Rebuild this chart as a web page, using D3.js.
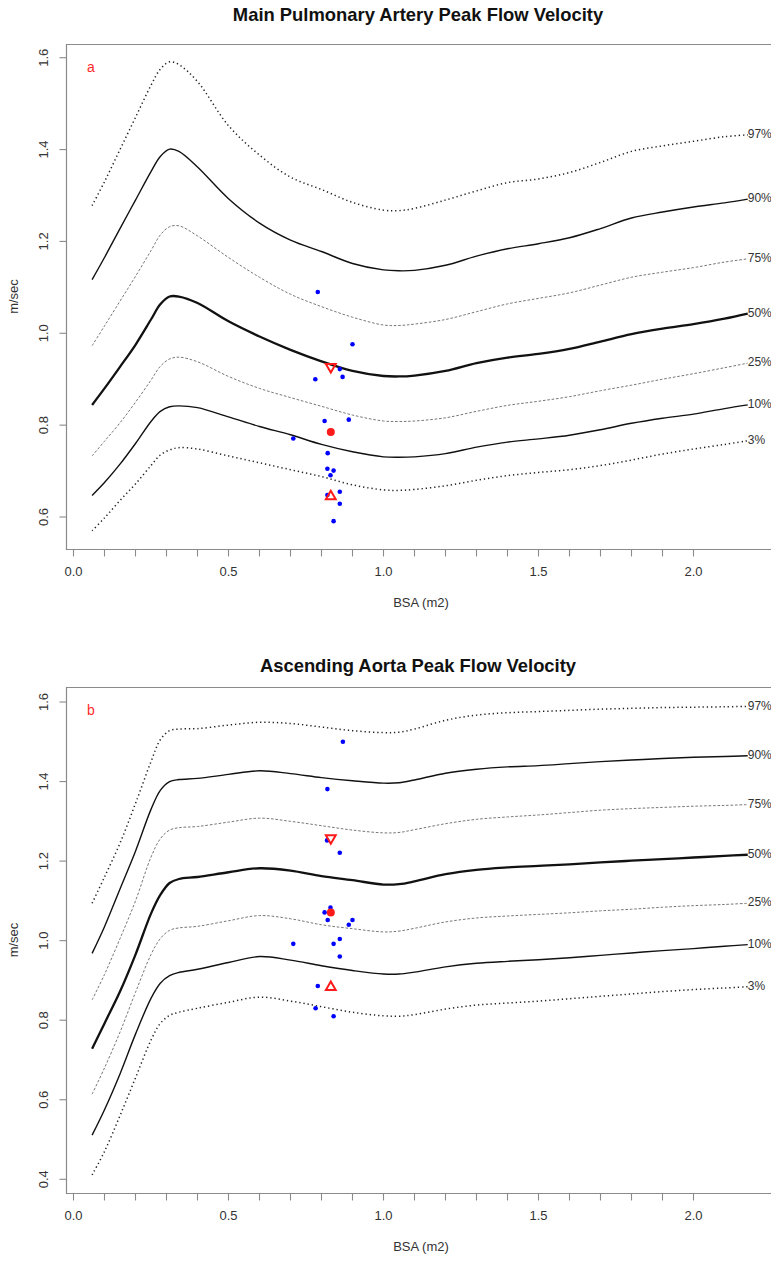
<!DOCTYPE html>
<html>
<head>
<meta charset="utf-8">
<script src="https://cdn.jsdelivr.net/npm/d3@7"></script>
<style>
  html, body { margin: 0; padding: 0; background: #fff; }
  svg { display: block; font-family: "Liberation Sans", Arial, sans-serif; }
</style>
</head>
<body>
<svg id="chart" width="771" height="1261"></svg>
<script>
// BSA grid on which the centile curves are tabulated (m2)
const bsaGrid = [0.06, 0.10, 0.15, 0.20, 0.25, 0.28, 0.31, 0.34, 0.40, 0.50, 0.60, 0.70, 0.80, 0.90,
                 1.00, 1.05, 1.10, 1.20, 1.30, 1.40, 1.50, 1.60, 1.70, 1.80, 1.90, 2.00, 2.10, 2.175];
const centileLabels = ["97%", "90%", "75%", "50%", "25%", "10%", "3%"];

// Main pulmonary artery peak velocity centiles (m/sec)
const mpa97 = [1.278, 1.330, 1.400, 1.470, 1.540, 1.575, 1.591, 1.585, 1.548, 1.452, 1.388, 1.340, 1.313, 1.285,
               1.268, 1.267, 1.272, 1.290, 1.310, 1.328, 1.336, 1.350, 1.372, 1.396, 1.408, 1.418, 1.428, 1.432];
const mpa90 = [1.117, 1.165, 1.228, 1.290, 1.352, 1.385, 1.401, 1.396, 1.362, 1.293, 1.240, 1.203, 1.178, 1.152,
               1.138, 1.136, 1.137, 1.148, 1.168, 1.184, 1.195, 1.208, 1.228, 1.251, 1.264, 1.275, 1.284, 1.292];
const mpa75 = [0.973, 1.016, 1.070, 1.124, 1.180, 1.214, 1.232, 1.234, 1.212, 1.165, 1.122, 1.085, 1.058, 1.035,
               1.018, 1.017, 1.020, 1.030, 1.047, 1.064, 1.076, 1.088, 1.105, 1.122, 1.133, 1.143, 1.155, 1.162];
const mpa50 = [0.844, 0.880, 0.927, 0.975, 1.030, 1.063, 1.080, 1.080, 1.066, 1.026, 0.993, 0.964, 0.939, 0.918,
               0.907, 0.906, 0.908, 0.918, 0.935, 0.947, 0.955, 0.966, 0.982, 0.998, 1.010, 1.020, 1.032, 1.043];
const mpa25 = [0.733, 0.765, 0.805, 0.850, 0.898, 0.928, 0.944, 0.948, 0.938, 0.906, 0.880, 0.860, 0.841, 0.822,
               0.809, 0.808, 0.809, 0.816, 0.830, 0.843, 0.852, 0.862, 0.875, 0.887, 0.900, 0.912, 0.925, 0.935];
const mpa10 = [0.647, 0.675, 0.715, 0.760, 0.808, 0.830, 0.840, 0.842, 0.838, 0.818, 0.797, 0.779, 0.758, 0.742,
               0.731, 0.730, 0.731, 0.738, 0.752, 0.763, 0.770, 0.778, 0.790, 0.804, 0.815, 0.824, 0.836, 0.844];
const mpa03 = [0.570, 0.598, 0.636, 0.672, 0.712, 0.735, 0.746, 0.751, 0.748, 0.733, 0.718, 0.703, 0.688, 0.670,
               0.659, 0.658, 0.660, 0.668, 0.680, 0.690, 0.697, 0.703, 0.712, 0.724, 0.737, 0.748, 0.758, 0.766];

// Ascending aorta peak velocity centiles (m/sec)
const aao97 = [1.094, 1.160, 1.245, 1.345, 1.450, 1.505, 1.528, 1.532, 1.533, 1.542, 1.549, 1.546, 1.537, 1.528,
               1.523, 1.524, 1.532, 1.554, 1.567, 1.573, 1.576, 1.579, 1.582, 1.584, 1.586, 1.587, 1.588, 1.589];
const aao90 = [0.968, 1.035, 1.130, 1.225, 1.330, 1.378, 1.400, 1.405, 1.408, 1.418, 1.427, 1.420, 1.410, 1.402,
               1.396, 1.397, 1.404, 1.421, 1.431, 1.437, 1.440, 1.445, 1.450, 1.454, 1.458, 1.461, 1.463, 1.465];
const aao75 = [0.851, 0.915, 1.005, 1.100, 1.210, 1.256, 1.278, 1.284, 1.287, 1.298, 1.308, 1.300, 1.289, 1.278,
               1.271, 1.272, 1.279, 1.294, 1.305, 1.311, 1.316, 1.322, 1.328, 1.332, 1.335, 1.338, 1.340, 1.342];
const aao50 = [0.728, 0.792, 0.872, 0.965, 1.068, 1.115, 1.145, 1.155, 1.160, 1.172, 1.182, 1.176, 1.162, 1.152,
               1.141, 1.142, 1.149, 1.167, 1.178, 1.184, 1.188, 1.192, 1.197, 1.201, 1.205, 1.209, 1.213, 1.216];
const aao25 = [0.614, 0.680, 0.770, 0.870, 0.965, 1.005, 1.026, 1.032, 1.036, 1.050, 1.063, 1.055, 1.040, 1.030,
               1.022, 1.024, 1.031, 1.047, 1.057, 1.062, 1.066, 1.070, 1.075, 1.079, 1.084, 1.088, 1.091, 1.094];
const aao10 = [0.511, 0.575, 0.665, 0.765, 0.855, 0.893, 0.912, 0.920, 0.928, 0.945, 0.960, 0.951, 0.937, 0.925,
               0.916, 0.916, 0.921, 0.934, 0.943, 0.948, 0.952, 0.957, 0.963, 0.969, 0.975, 0.980, 0.986, 0.990];
const aao03 = [0.411, 0.470, 0.560, 0.655, 0.750, 0.792, 0.812, 0.820, 0.830, 0.845, 0.858, 0.848, 0.834, 0.820,
               0.811, 0.810, 0.814, 0.828, 0.838, 0.843, 0.848, 0.854, 0.860, 0.866, 0.872, 0.877, 0.881, 0.884];

// Individual patients: BSA (m2) and peak velocity (m/sec)
const mpaBsa = [0.788, 0.900, 0.859, 0.868, 0.780, 0.810, 0.888, 0.709, 0.820, 0.819, 0.839, 0.829, 0.859, 0.819, 0.859, 0.839];
const mpaVel = [1.090, 0.976, 0.922, 0.905, 0.900, 0.809, 0.812, 0.771, 0.739, 0.705, 0.701, 0.691, 0.655, 0.648, 0.629, 0.591];
const aaoBsa = [0.869, 0.819, 0.818, 0.859, 0.829, 0.810, 0.820, 0.900, 0.888, 0.859, 0.709, 0.839, 0.859, 0.788, 0.781, 0.839];
const aaoVel = [1.500, 1.381, 1.252, 1.221, 1.083, 1.071, 1.052, 1.052, 1.040, 1.004, 0.992, 0.992, 0.960, 0.886, 0.830, 0.810];

// Group summary at the mean BSA: mean, upper and lower values
const groupBsa = 0.83;
const mpaSummary = [0.785, 0.927, 0.645];
const aaoSummary = [1.071, 1.258, 0.883];

// Axis ticks
const xTicks = d3.range(0, 21).map(i => i / 10);
const xTickLabels = [0, 0.5, 1.0, 1.5, 2.0];
const mpaYTicks = [0.6, 0.8, 1.0, 1.2, 1.4, 1.6];
const aaoYTicks = [0.4, 0.6, 0.8, 1.0, 1.2, 1.4, 1.6];

const svg = d3.select("#chart");
svg.append("rect").attr("width", 771).attr("height", 1261).attr("fill", "#fff");

const plotLeft = 66, plotRight = 774;
const x = d3.scaleLinear().domain([0, 2]).range([73.5, 693.5]);

const styles = {
  "97%": { stroke: "#222", width: 1.5, dash: "1.3,2.9" },
  "90%": { stroke: "#111", width: 1.4, dash: null },
  "75%": { stroke: "#777", width: 1.0, dash: "2.6,1.8" },
  "50%": { stroke: "#111", width: 2.3, dash: null },
  "25%": { stroke: "#777", width: 1.0, dash: "2.6,1.8" },
  "10%": { stroke: "#111", width: 1.4, dash: null },
  "3%":  { stroke: "#222", width: 1.5, dash: "1.3,2.9" }
};

function drawPanel(cfg) {
  const g = svg.append("g");
  const y = d3.scaleLinear().domain(cfg.yDomain).range(cfg.yRange);

  // title
  g.append("text").attr("x", 418).attr("y", cfg.titleY)
    .attr("text-anchor", "middle").attr("font-size", 18.4).attr("font-weight", "bold")
    .attr("fill", "#111").text(cfg.title);

  // frame (left, top, bottom)
  g.append("path")
    .attr("d", `M${plotRight},${cfg.top + 0.5}H${plotLeft + 0.5}V${cfg.bottom + 0.5}H${plotRight}`)
    .attr("fill", "none").attr("stroke", "#8a8a8a").attr("stroke-width", 1.2);

  // x axis ticks
  const xt = g.append("g");
  xTicks.forEach(t => {
    xt.append("line").attr("x1", x(t)).attr("x2", x(t))
      .attr("y1", cfg.bottom + 0.5).attr("y2", cfg.bottom + 7.5)
      .attr("stroke", "#8a8a8a").attr("stroke-width", 1.1);
  });
  xTickLabels.forEach(t => {
    xt.append("text").attr("x", x(t)).attr("y", cfg.bottom + 24)
      .attr("text-anchor", "middle").attr("dominant-baseline", "middle")
      .attr("font-size", 13).attr("fill", "#333").text(d3.format(".1f")(t));
  });
  g.append("text").attr("x", 421).attr("y", cfg.bottom + 55)
    .attr("text-anchor", "middle").attr("dominant-baseline", "middle")
    .attr("font-size", 13).attr("fill", "#333").text("BSA (m2)");

  // y axis ticks (labels rotated, as in base graphics)
  cfg.yTicks.forEach(t => {
    g.append("line").attr("x1", plotLeft + 0.5).attr("x2", plotLeft - 6.5)
      .attr("y1", y(t)).attr("y2", y(t))
      .attr("stroke", "#8a8a8a").attr("stroke-width", 1.1);
    g.append("text")
      .attr("transform", `translate(45,${y(t)}) rotate(-90)`)
      .attr("text-anchor", "middle").attr("dominant-baseline", "middle")
      .attr("font-size", 13).attr("fill", "#333").text(d3.format(".1f")(t));
  });
  g.append("text")
    .attr("transform", `translate(15,${(cfg.top + cfg.bottom) / 2}) rotate(-90)`)
    .attr("text-anchor", "middle").attr("dominant-baseline", "middle")
    .attr("font-size", 13).attr("fill", "#333").text("m/sec");

  // panel letter
  g.append("text").attr("x", 87).attr("y", cfg.top + 24)
    .attr("dominant-baseline", "middle").attr("font-size", 14)
    .attr("fill", "#ff2a2a").text(cfg.letter);

  // centile curves
  const line = d3.line().x(d => x(d[0])).y(d => y(d[1])).curve(d3.curveCatmullRom.alpha(0.5));
  cfg.curves.forEach((vals, i) => {
    const lab = centileLabels[i];
    const st = styles[lab];
    const pts = bsaGrid.map((b, j) => [b, vals[j]]);
    g.append("path").attr("d", line(pts))
      .attr("fill", "none").attr("stroke", st.stroke)
      .attr("stroke-width", st.width)
      .attr("stroke-dasharray", st.dash)
      .attr("stroke-linejoin", "round");
    const last = pts[pts.length - 1];
    g.append("text").attr("x", x(last[0])).attr("y", y(last[1]))
      .attr("dominant-baseline", "middle").attr("font-size", 12)
      .attr("fill", "#333").text(lab);
  });

  // patients
  cfg.bsa.forEach((b, i) => {
    g.append("circle").attr("cx", x(b)).attr("cy", y(cfg.vel[i]))
      .attr("r", 2.3).attr("fill", "#0000ff");
  });

  // group summary markers
  const [mean, upper, lower] = cfg.summary;
  const tri = d3.symbol().type(d3.symbolTriangle).size(42);
  g.append("path").attr("d", tri())
    .attr("transform", `translate(${x(groupBsa)},${y(upper)}) rotate(180)`)
    .attr("fill", "none").attr("stroke", "#ff1a1a").attr("stroke-width", 2);
  g.append("path").attr("d", tri())
    .attr("transform", `translate(${x(groupBsa)},${y(lower)})`)
    .attr("fill", "none").attr("stroke", "#ff1a1a").attr("stroke-width", 2);
  g.append("circle").attr("cx", x(groupBsa)).attr("cy", y(mean))
    .attr("r", 4).attr("fill", "#ff1a1a");
}

drawPanel({
  title: "Main Pulmonary Artery Peak Flow Velocity", titleY: 21,
  letter: "a", top: 44, bottom: 549,
  yDomain: [0.6, 1.6], yRange: [517, 57.7], yTicks: mpaYTicks,
  curves: [mpa97, mpa90, mpa75, mpa50, mpa25, mpa10, mpa03],
  bsa: mpaBsa, vel: mpaVel, summary: mpaSummary
});

drawPanel({
  title: "Ascending Aorta Peak Flow Velocity", titleY: 672,
  letter: "b", top: 687, bottom: 1193,
  yDomain: [0.4, 1.6], yRange: [1179.3, 702], yTicks: aaoYTicks,
  curves: [aao97, aao90, aao75, aao50, aao25, aao10, aao03],
  bsa: aaoBsa, vel: aaoVel, summary: aaoSummary
});
</script>
</body>
</html>
